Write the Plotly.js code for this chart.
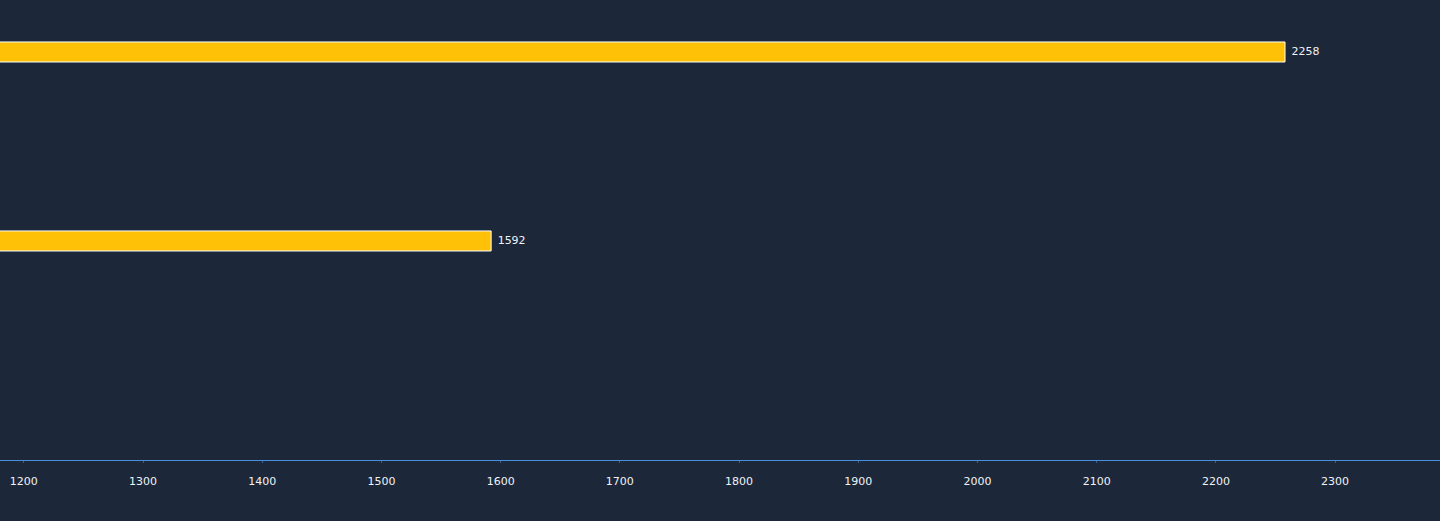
<!DOCTYPE html>
<html>
<head>
<meta charset="utf-8">
<script src="https://cdn.plot.ly/plotly-3.0.1.min.js"></script>
<style>
  html, body { margin: 0; padding: 0; background: #1c2839; }
  #chart { width: 1440px; height: 521px; }
</style>
</head>
<body>
<div id="chart"></div>
<script>
  // categories, top to bottom
  var categories = ["A", "B"];
  var values = [2258, 1592];
  var xTicks = [1200, 1300, 1400, 1500, 1600, 1700, 1800, 1900, 2000, 2100, 2200, 2300];

  var bg = "#1c2839";
  var txt = "#f0f2f6";
  var fam = "DejaVu Sans, Verdana, sans-serif";

  var trace = {
    type: "bar",
    orientation: "h",
    y: categories,
    x: values,
    width: 0.106,
    marker: { color: "#ffc107", line: { color: "#ffffff", width: 1 } },
    text: values.map(function (v) { return " " + v; }),
    textposition: "outside",
    cliponaxis: false,
    textfont: { family: fam, size: 11, color: txt },
    hoverinfo: "x+y"
  };

  Plotly.newPlot(
    "chart",
    [trace],
    {
      width: 1440,
      height: 521,
      margin: { l: 0, r: 0, t: 0, b: 61 },
      paper_bgcolor: bg,
      plot_bgcolor: bg,
      showlegend: false,
      font: { family: fam, size: 11, color: txt },
      xaxis: {
        range: [1180, 2388],
        tickvals: xTicks,
        ticktext: xTicks.map(String),
        showgrid: false,
        zeroline: false,
        showline: true,
        linecolor: "#4a8fdc",
        linewidth: 1,
        ticks: "outside",
        ticklen: 2,
        tickcolor: "#3a5f8c",
        ticklabelstandoff: 9,
        tickfont: { family: fam, size: 11, color: txt }
      },
      yaxis: {
        type: "category",
        range: [2.159, -0.275],
        showticklabels: false,
        showgrid: false,
        zeroline: false,
        showline: false,
        ticks: ""
      }
    },
    { displayModeBar: false, staticPlot: true }
  );
</script>
</body>
</html>
